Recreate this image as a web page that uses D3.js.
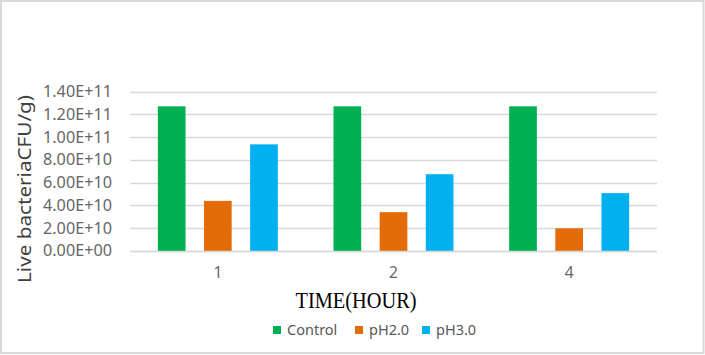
<!DOCTYPE html>
<html><head><meta charset="utf-8">
<script src="https://cdn.jsdelivr.net/npm/d3@7"></script>
<style>html,body{margin:0;padding:0;background:#fff;}svg{display:block;}</style>
</head><body>
<svg id="c" width="705" height="355"></svg>
<script>
const categories = ["1", "2", "4"];
const seriesNames = ["Control", "pH2.0", "pH3.0"];
const control = [1.27e11, 1.27e11, 1.27e11];
const ph2 = [4.40e10, 3.41e10, 1.99e10];
const ph3 = [9.36e10, 6.74e10, 5.08e10];
const yTicks = [0, 2e10, 4e10, 6e10, 8e10, 1e11, 1.2e11, 1.4e11];
const colors = ["#00B050", "#E36C09", "#00B0F0"];

(function () {
const seriesValues = [control, ph2, ph3];
const svg = d3.select("#c");
const W = 705, H = 355;
const mLeft = 130, mRight = 657, mTop = 91.5, mBottom = 251;

svg.append("rect").attr("x", 1).attr("y", 1).attr("width", W - 2.5).attr("height", H - 3)
  .attr("fill", "#fff").attr("stroke", "#d9d9d9").attr("stroke-width", 2);

const y = d3.scaleLinear().domain([0, 1.4e11]).range([mBottom, mTop]);
const x0 = d3.scaleBand().domain(categories).range([mLeft, mRight]).paddingInner(0.317).paddingOuter(0.1585);
const x1 = d3.scaleBand().domain(seriesNames).range([0, x0.bandwidth()]).paddingInner(0.4);

const fmt = v => {
  if (v === 0) return "0.00E+00";
  const e = Math.floor(Math.log10(v));
  const m = v / Math.pow(10, e);
  return m.toFixed(2) + "E+" + String(e).padStart(2, "0");
};

// gridlines
svg.append("g").selectAll("line").data(yTicks).join("line")
  .attr("x1", mLeft).attr("x2", mRight)
  .attr("y1", d => Math.round(y(d)) + 0.5).attr("y2", d => Math.round(y(d)) + 0.5)
  .attr("stroke", "#d9d9d9").attr("stroke-width", 1.3);

// y axis labels
const yAxis = d3.axisLeft(y).tickValues(yTicks).tickFormat(fmt).tickSize(0).tickPadding(18);
const yg = svg.append("g").attr("transform", `translate(${mLeft},0)`).call(yAxis);
yg.select(".domain").remove();
yg.selectAll("text").attr("font-family", "'Noto Sans', sans-serif").attr("font-size", 15.5)
  .attr("fill", "#666").attr("textLength", 69).attr("lengthAdjust", "spacingAndGlyphs");

// bars
const groups = svg.append("g").selectAll("g").data(categories).join("g")
  .attr("transform", d => `translate(${x0(d)},0)`);
groups.selectAll("rect").data((d, i) => seriesNames.map((s, j) => ({ s, v: seriesValues[j][i], c: colors[j] })))
  .join("rect")
  .attr("x", d => x1(d.s)).attr("width", x1.bandwidth())
  .attr("y", d => y(d.v)).attr("height", d => y(0) - y(d.v))
  .attr("fill", d => d.c);

// x axis
const xAxis = d3.axisBottom(x0).tickSize(0).tickPadding(16);
const xg = svg.append("g").attr("transform", `translate(0,${mBottom})`).call(xAxis);
xg.select(".domain").attr("stroke", "#d9d9d9").attr("stroke-width", 1.3).attr("d", `M${mLeft},0.5H${mRight}`);
xg.selectAll("text").attr("font-family", "'Noto Sans', sans-serif").attr("font-size", 15.5).attr("fill", "#666");

// y title
svg.append("text").attr("transform", `translate(31,189) rotate(-90)`)
  .attr("text-anchor", "middle").attr("font-family", "'Noto Sans', sans-serif").attr("font-size", 18)
  .attr("fill", "#404040").attr("textLength", 188).attr("lengthAdjust", "spacingAndGlyphs")
  .text("Live bacteriaCFU/g)");

// x title
svg.append("text").attr("x", 356).attr("y", 308).attr("text-anchor", "middle")
  .attr("font-family", "'Liberation Serif', serif").attr("font-size", 23).attr("fill", "#000")
  .attr("textLength", 121).attr("lengthAdjust", "spacingAndGlyphs")
  .text("TIME(HOUR)");

// legend
const legendX = [273, 355, 422];
const lg = svg.append("g").selectAll("g").data(seriesNames).join("g")
  .attr("transform", (d, i) => `translate(${legendX[i]},326)`);
lg.append("rect").attr("width", 8).attr("height", 8).attr("fill", (d, i) => colors[i]);
lg.append("text").attr("x", 14).attr("y", 9).attr("font-family", "'Noto Sans', sans-serif")
  .attr("font-size", 14.5).attr("fill", "#595959").text(d => d);
})();
</script>
</body></html>
